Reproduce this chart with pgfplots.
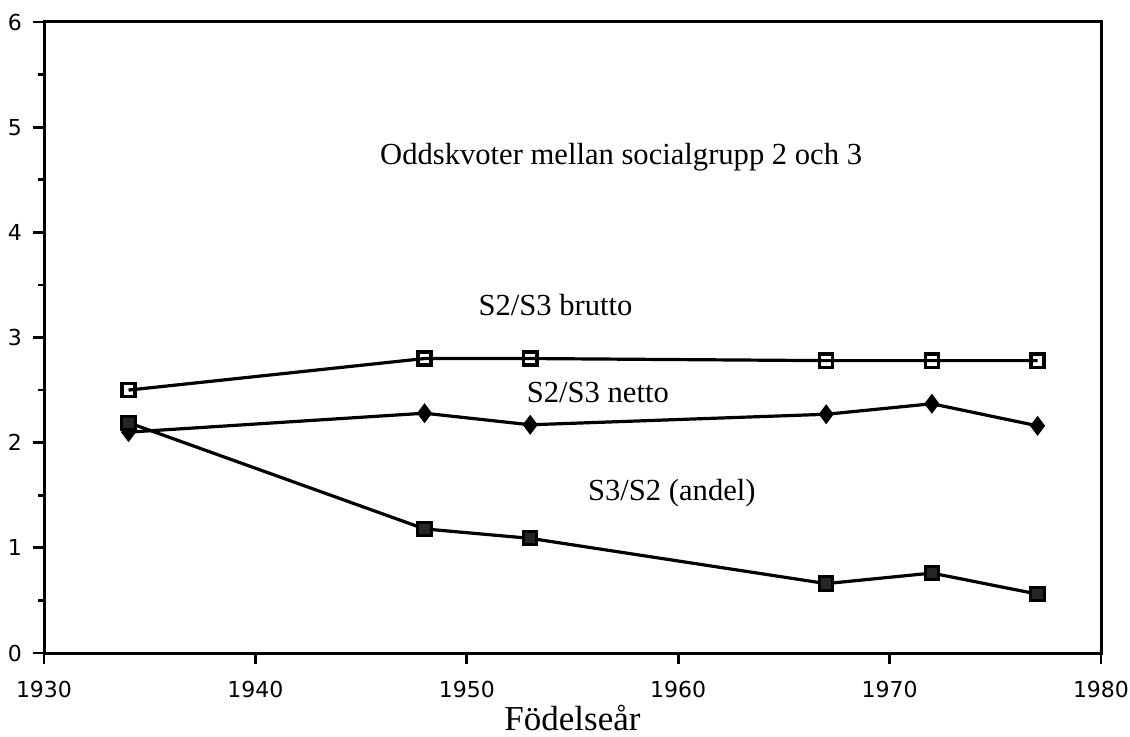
\documentclass[border=0pt]{standalone}
\usepackage{fontspec}
\setmainfont{Liberation Serif}
\newfontfamily\ticksans{DejaVu Sans}
\usepackage{pgfplots}
\pgfplotsset{compat=1.18}
\begin{document}
\begin{tikzpicture}
\path[use as bounding box] (0,0) rectangle (565pt,-368.5pt);
\begin{axis}[
  at={(22pt,-326.5pt)}, anchor=south west,
  scale only axis, width=528.5pt, height=315.5pt,
  xmin=1930, xmax=1980, ymin=0, ymax=6,
  xtick={1930,1940,...,1980}, ytick={0,1,...,6},
  minor y tick num=1,
  xtick pos=bottom, ytick pos=left,
  tick align=outside,
  major tick length=5.5pt, minor tick length=3pt,
  axis line style={line width=1.4pt},
  major tick style={line width=1.4pt, black},
  minor tick style={line width=1.4pt, black},
  /pgf/number format/assume math mode=true,
  /pgf/number format/1000 sep={},
  tick label style={font=\ticksans\fontsize{11}{13}\selectfont},
  xticklabel style={yshift=-5pt},
  yticklabel style={xshift=-2pt},
  xlabel={Födelseår},
  xlabel style={font=\fontsize{17.5}{20}\selectfont, inner sep=0pt, text depth=0pt, yshift=0pt},
  clip=false,
]
\draw[line width=1.5pt] (rel axis cs:0,0) rectangle (rel axis cs:1,1);
\addplot[black, line width=1.6pt, mark=square, mark size=3.3pt, mark options={fill=white, line width=1.7pt}]
  coordinates {(1934,2.50) (1948,2.80) (1953,2.80) (1967,2.78) (1972,2.78) (1977,2.78)};
\addplot[black, line width=1.6pt, mark=diamond*, mark size=4.6pt, mark options={fill=black, line width=0.5pt}]
  coordinates {(1934,2.10) (1948,2.28) (1953,2.17) (1967,2.27) (1972,2.37) (1977,2.16)};
\addplot[black, line width=1.6pt, mark=square*, mark size=3.3pt, mark options={fill=black!85, line width=1.5pt}]
  coordinates {(1934,2.19) (1948,1.18) (1953,1.09) (1967,0.66) (1972,0.76) (1977,0.56)};
\node[font=\fontsize{15.3}{18}\selectfont] at (axis cs:1957.3,4.71) {Oddskvoter mellan socialgrupp 2 och 3};
\node[font=\fontsize{15.3}{18}\selectfont] at (axis cs:1954.2,3.31) {S2/S3 brutto};
\node[font=\fontsize{15.3}{18}\selectfont] at (axis cs:1956.2,2.48) {S2/S3 netto};
\node[font=\fontsize{15.3}{18}\selectfont] at (axis cs:1959.7,1.52) {S3/S2 (andel)};
\end{axis}
\end{tikzpicture}
\end{document}
